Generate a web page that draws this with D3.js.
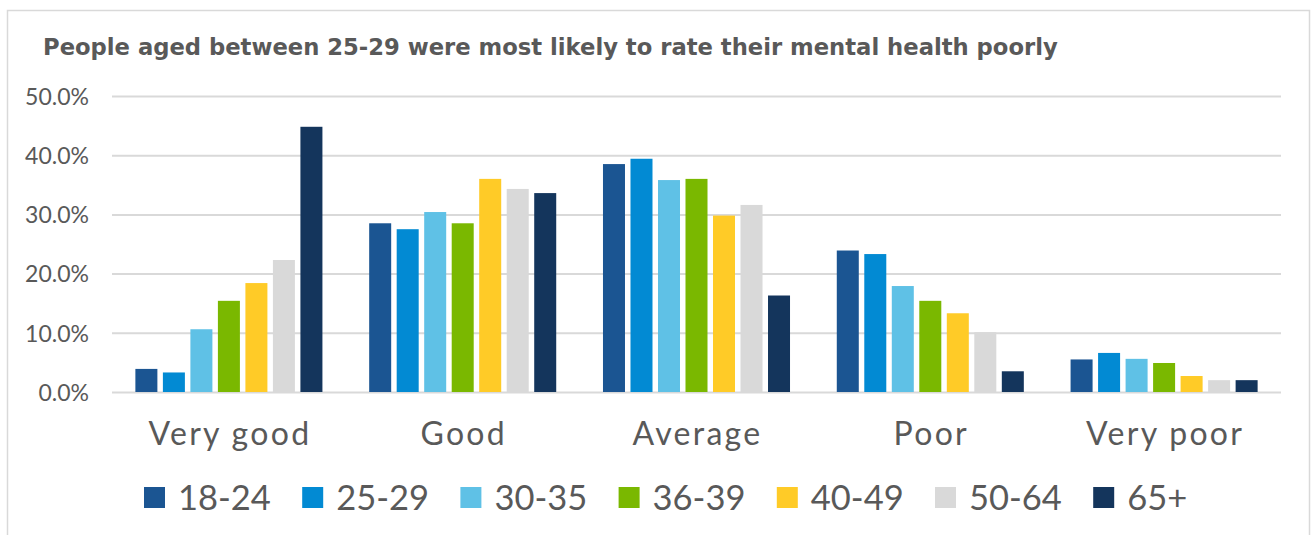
<!DOCTYPE html>
<html>
<head>
<meta charset="utf-8">
<script src="https://cdn.jsdelivr.net/npm/d3@7"></script>
<style>
  html, body { margin: 0; padding: 0; background: #fff; }
  svg text { font-family: "Lato", "Open Sans", sans-serif; fill: #595959; }
</style>
</head>
<body>
<div id="chart"></div>
<script>
// categories on the x axis
var ratings = ["Very good", "Good", "Average", "Poor", "Very poor"];
// age groups (series)
var ageGroups = ["18-24", "25-29", "30-35", "36-39", "40-49", "50-64", "65+"];
var colours = ["#1b5592", "#028ad3", "#5fc1e6", "#7ab800", "#ffcb27", "#d9d9d9", "#14355c"];

// share per age group, one array per rating
var veryGood = [0.039, 0.033, 0.106, 0.154, 0.184, 0.223, 0.448];
var good     = [0.285, 0.275, 0.304, 0.285, 0.360, 0.343, 0.336];
var average  = [0.385, 0.394, 0.358, 0.360, 0.298, 0.316, 0.163];
var poor     = [0.239, 0.233, 0.179, 0.154, 0.133, 0.101, 0.035];
var veryPoor = [0.055, 0.066, 0.056, 0.049, 0.027, 0.020, 0.020];

var yTicks = [0, 0.1, 0.2, 0.3, 0.4, 0.5];

var values = [veryGood, good, average, poor, veryPoor];

var width = 1312, height = 535;
var plot = {left: 112, right: 1281, top: 96, bottom: 392};

var svg = d3.select("#chart").append("svg")
  .attr("width", width)
  .attr("height", height);

svg.append("rect")
  .attr("width", width).attr("height", height)
  .attr("fill", "#fff");

// chart frame
svg.append("rect")
  .attr("x", 7.5).attr("y", 10.5)
  .attr("width", 1302).attr("height", 540)
  .attr("fill", "none")
  .attr("stroke", "#d9d9d9")
  .attr("stroke-width", 1.5);

// title
svg.append("text")
  .attr("x", 43).attr("y", 55)
  .style("font-family", "'DejaVu Sans', sans-serif")
  .style("font-weight", "bold")
  .style("font-size", "22.7px")
  .text("People aged between 25-29 were most likely to rate their mental health poorly");

var x0 = d3.scaleBand()
  .domain(ratings)
  .range([plot.left, plot.right]);

var x1 = d3.scaleBand()
  .domain(ageGroups)
  .range([0, x0.bandwidth()])
  .paddingInner(0.2)
  .paddingOuter(0.85);

var y = d3.scaleLinear()
  .domain([0, 0.5])
  .range([plot.bottom, plot.top]);

var colour = d3.scaleOrdinal().domain(ageGroups).range(colours);

// gridlines
var yAxis = d3.axisLeft(y)
  .tickValues(yTicks)
  .tickFormat(d3.format(".1%"))
  .tickSize(-(plot.right - plot.left))
  .tickPadding(23);

var gy = svg.append("g")
  .attr("transform", "translate(" + plot.left + ",0)")
  .call(yAxis);
gy.select(".domain").remove();
gy.selectAll(".tick line")
  .attr("stroke", "#d9d9d9")
  .attr("stroke-width", 2);
gy.selectAll(".tick text")
  .style("font-size", "23px")
  .attr("fill", "#595959")
  .attr("dy", "0.36em");

// bars
var groups = svg.append("g").selectAll("g")
  .data(ratings)
  .join("g")
  .attr("transform", d => "translate(" + x0(d) + ",0)");

groups.selectAll("rect")
  .data((d, i) => ageGroups.map((a, j) => ({age: a, value: values[i][j]})))
  .join("rect")
  .attr("x", d => x1(d.age))
  .attr("width", x1.bandwidth())
  .attr("y", d => y(d.value))
  .attr("height", d => y(0) - y(d.value))
  .attr("fill", d => colour(d.age));

// category labels
var xAxis = d3.axisBottom(x0).tickSize(0).tickPadding(0);
var gx = svg.append("g")
  .attr("transform", "translate(0," + plot.bottom + ")")
  .call(xAxis);
gx.select(".domain").remove();
gx.selectAll(".tick text")
  .attr("y", 53)
  .attr("dy", 0)
  .attr("x", 1)
  .attr("fill", "#595959")
  .style("font-size", "32px")
  .style("letter-spacing", "2.3px");

// legend
var legend = svg.append("g").selectAll("g")
  .data(ageGroups)
  .join("g")
  .attr("transform", (d, i) => "translate(" + (144 + i * 158.2) + ",487)");

legend.append("rect")
  .attr("width", 21).attr("height", 21)
  .attr("fill", d => colour(d));

legend.append("text")
  .attr("x", 34).attr("y", 23)
  .style("font-size", "34.5px")
  .text(d => d);
</script>
</body>
</html>
